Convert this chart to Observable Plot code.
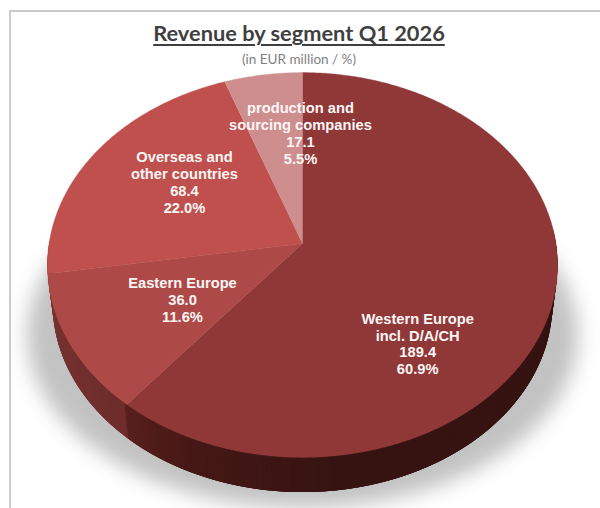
<!DOCTYPE html>
<html>
<head>
<meta charset="utf-8">
<script src="https://cdn.jsdelivr.net/npm/d3@7"></script>
<script src="https://cdn.jsdelivr.net/npm/@observablehq/plot@0.6"></script>
<style>
html,body{margin:0;padding:0;background:#fff;overflow:hidden;width:600px;height:508px}
#frame{position:absolute;left:9px;top:10px;width:589px;height:496px;border-left:2px solid #cbcbcb;border-top:2px solid #cbcbcb;}
#head{height:54px;width:576px;text-align:center;overflow:hidden}
#title{font:700 21.8px Lato,sans-serif;color:#3f3f3f;text-decoration:underline;text-decoration-thickness:1.5px;text-underline-offset:3px;line-height:26px;margin-top:8px}
#sub{font:400 13.5px Lato,sans-serif;color:#7f7f7f;line-height:16px;margin-top:5px}
svg{display:block}
</style>
</head>
<body>
<div id="frame">
<div id="head">
<div id="title">Revenue by segment Q1 2026</div>
<div id="sub">(in EUR million / %)</div>
</div>
<div id="chart"></div>
</div>
<script>
// data
const segments = ["Western Europe\nincl. D/A/CH", "Eastern Europe", "Overseas and\nother countries", "production and\nsourcing companies"];
const revenue = [189.4, 36.0, 68.4, 17.1];
const shares = ["60.9%", "11.6%", "22.0%", "5.5%"];
const valueLabels = ["189.4", "36.0", "68.4", "17.1"];

// styling and layout
const faceColors = ["#8f3837", "#ad4a47", "#c0504d", "#cf8e8e"];
const labelAngle = [139.2, 238.1, 304.6, 359.2];
const labelRadius = [0.657, 0.54, 0.587, 0.622];
const apex = {x: 302, y: 243};
const R = 253.4, S = 190, P = 0.1117;          // perspective of the tilted disc
const depth = 39, lowerScale = 0.98;

const rad = d => d * Math.PI / 180;
// a polar point on the disc, seen in perspective
function disc(deg, f = 1, kx = 1, off = 0, ky = kx) {
  const u = f * Math.sin(rad(deg)), v = f * Math.cos(rad(deg)), w = 1 + P * v;
  return {x: apex.x + kx * R * u / w, y: apex.y + off - ky * S * v / w};
}
const pie = d3.pie().sort(null).value(d => d).startAngle(0).endAngle(2 * Math.PI)(revenue)
  .map(a => ({start: a.startAngle * 180 / Math.PI, end: a.endAngle * 180 / Math.PI}));
const east = pie[1], west = pie[0];

// face wedges
const faces = pie.flatMap((a, i) => {
  const pts = [{...apex}];
  for (let t = a.start; t < a.end; t += 0.5) pts.push(disc(t));
  pts.push(disc(a.end));
  return pts.map(p => ({...p, id: "f" + i, c: faceColors[i]}));
});

// side wall strips, painted from the two outer ends towards the front
const westSide = d3.scaleLinear().domain([90, 170, 200, west.end]).range(["#351311", "#361311", "#451815", "#5b211e"]);
const eastSide = d3.scaleLinear().domain([east.start, 250, east.end]).range(["#6e2d2b", "#763230", "#7d3633"]);
const sides = [];
const strip = (t, t2, c) => [disc(t), disc(t2), disc(t2, 1, lowerScale, depth), disc(t, 1, lowerScale, depth)]
  .forEach(p => sides.push({...p, id: "s" + t, c}));
for (let t = west.end - 1; t >= 85; t -= 1) strip(t, t + 4, westSide(t));
for (let t = east.end + 6; t >= west.end; t -= 1) strip(t, t + 4, eastSide(Math.min(t, east.end)));

// soft shadow under the disc: a wider, flatter copy of it, lower down
const shadow = d3.range(0, 360, 3).map(t => disc(t, 1, 1.08, 72, 0.9));

const labels = segments.map((s, i) => ({
  ...disc(labelAngle[i], labelRadius[i]),
  text: `${s}\n${valueLabels[i]}\n${shares[i]}`
}));

const chart = Plot.plot({
  width: 589, height: 442,
  margin: 0,
  x: {domain: [11, 600], range: [0, 589], axis: null},
  y: {domain: [66, 508], range: [0, 442], axis: null},
  color: {type: "identity"},
  marks: [
    Plot.line(shadow, {x: "x", y: "y", fill: "#c2c2c2", stroke: "none", imageFilter: "blur(10px)"}),
    Plot.line(sides, {x: "x", y: "y", z: "id", fill: "c", stroke: "none"}),
    Plot.line(faces, {x: "x", y: "y", z: "id", fill: "c", stroke: "c", strokeWidth: 0.4}),
    Plot.text(labels, {
      x: "x", y: "y", text: "text",
      fill: "#fdf6f6", fontFamily: "Liberation Sans, Arial, sans-serif",
      fontWeight: 700, fontSize: 14.7, lineHeight: 1.155,
      textAnchor: "middle", lineAnchor: "middle"
    })
  ]
});
document.getElementById("chart").appendChild(chart);
</script>
</body>
</html>
